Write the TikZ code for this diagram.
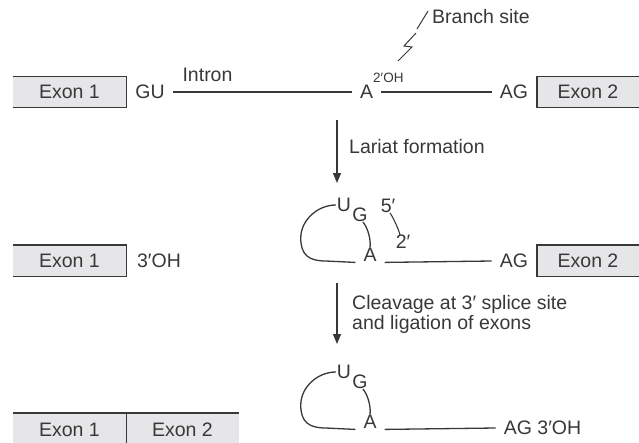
\documentclass[tikz,border=0pt]{standalone}
\usepackage{fontspec}
\setmainfont{Liberation Sans}
\usetikzlibrary{arrows.meta}
\definecolor{ink}{HTML}{383838}
\definecolor{boxfill}{HTML}{E6E6E8}
\begin{document}
\begin{tikzpicture}[x=1pt,y=-1pt]
\tikzset{
  lbl/.style={inner xsep=8pt, inner ysep=0pt, text=ink, font=\fontsize{19.5}{20}\selectfont},
  ltr/.style={inner sep=1pt, text=ink, font=\fontsize{19.5}{20}\selectfont},
  supl/.style={inner sep=0pt, text=ink, font=\fontsize{13.5}{14}\selectfont},
  exonbox/.style={fill=boxfill, inner sep=0pt, minimum height=31pt, text=ink, font=\fontsize{19.5}{20}\selectfont},
  edge/.style={draw=ink, line width=1.4pt},
  strand/.style={draw=ink, line width=1.3pt},
  bolt/.style={draw=ink, line width=1pt},
  steparrow/.style={draw=ink, line width=1.3pt, -{Triangle[width=8pt,length=10pt]}},
}
\useasboundingbox (0,0) rectangle (639,442);

% ---------- Row 1 ----------
\node[exonbox, minimum width=113pt] (e1a) at (69.5,92) {Exon 1};
\draw[edge] (e1a.north west) -- (e1a.north east) -- (e1a.south east) -- (e1a.south west);
\node[lbl] (gu) at (150,92) {GU};
\node[lbl] (intron) at (207.5,75) {Intron};
\node[lbl] (a1) at (366.5,92) {A};
\node[supl, anchor=west] (oh1) at (373,78) {2′OH};
\node[lbl] (ag1) at (514,92) {AG};
\node[exonbox, minimum width=102pt] (e2a) at (588,92) {Exon 2};
\draw[edge] (e2a.north east) -- (e2a.north west) -- (e2a.south west) -- (e2a.south east);
\draw[strand] (gu.east) -- (a1.west);
\draw[strand] (a1.east) -- (ag1.west);

% Branch site pointer
\node[lbl, inner xsep=0pt, anchor=west] (bs) at (432,17) {Branch site};
\coordinate (bz1) at (428,11);
\coordinate (bz2) at (417,29);
\coordinate (bz3) at (416,33);
\coordinate (bz4) at (404,46);
\coordinate (bz5) at (412,47);
\coordinate (bz6) at (398,61);
\draw[bolt] (bz1) -- (bz2);
\draw[bolt] (bz3) -- (bz4) -- (bz5) -- (bz6);

% ---------- Arrow 1 ----------
\coordinate (ar1s) at (337,120);
\coordinate (ar1e) at (337,183);
\draw[steparrow] (ar1s) -- (ar1e);
\node[lbl, inner xsep=0pt, anchor=west] (lar) at (349,147) {Lariat formation};

% ---------- Row 2 ----------
\node[exonbox, minimum width=113pt] (e1b) at (69.5,260.5) {Exon 1};
\draw[edge] (e1b.north west) -- (e1b.north east) -- (e1b.south east) -- (e1b.south west);
\node[lbl] (oh2) at (159,261) {3′OH};
\node[ltr] (u2) at (344,205) {U};
\node[ltr] (g2) at (360,215) {G};
\node[ltr] (a2) at (370,254.5) {A};
\node[ltr] (p5) at (388,206) {5′};
\node[ltr] (p2) at (403,242) {2′};
\node[lbl] (ag2) at (514,261) {AG};
\node[exonbox, minimum width=102pt] (e2b) at (588,260.5) {Exon 2};
\draw[edge] (e2b.north east) -- (e2b.north west) -- (e2b.south west) -- (e2b.south east);
\draw[strand] (u2.west) .. controls +(-18,0) and +(0,-18) .. ++(-35,33)
  .. controls +(0,17) and +(-17,0) .. ++(25,23) -- ([xshift=-7pt]a2.south west);
\draw[strand] ([xshift=7pt]a2.south east) -- (ag2.west);
\draw[strand] ([xshift=3pt,yshift=1pt]g2.south) .. controls +(5,6) and +(1,-8) .. ([yshift=-1pt]a2.north);
\draw[strand, line width=1.1pt] ([xshift=2pt,yshift=1pt]p5.south) .. controls +(3,4) and +(-1,-5) .. ([xshift=-3pt,yshift=-1pt]p2.north);

% ---------- Arrow 2 ----------
\coordinate (ar2s) at (337,283);
\coordinate (ar2e) at (337,344);
\draw[steparrow] (ar2s) -- (ar2e);
\node[lbl, inner xsep=0pt, anchor=north west, align=left] (clv) at (352,295)
  {Cleavage at 3′ splice site\\and ligation of exons};

% ---------- Row 3 ----------
\node[ltr] (u3) at (344,372) {U};
\node[ltr] (g3) at (360,382) {G};
\node[ltr] (a3) at (370,421.5) {A};
\node[lbl] (ag3) at (542.5,428) {AG 3′OH};
\draw[strand] (u3.west) .. controls +(-18,0) and +(0,-18) .. ++(-35,33)
  .. controls +(0,17) and +(-17,0) .. ++(25,23) -- ([xshift=-7pt]a3.south west);
\draw[strand] ([xshift=7pt]a3.south east) -- (ag3.west);
\draw[strand] ([xshift=3pt,yshift=1pt]g3.south) .. controls +(5,6) and +(1,-8) .. ([yshift=-1pt]a3.north);

\node[exonbox, minimum width=113pt, minimum height=34pt] (e1c) at (69.5,430) {Exon 1};
\node[exonbox, minimum width=112pt, minimum height=34pt] (e2c) at (182.5,430) {Exon 2};
\draw[edge] (e1c.north west) -- (e2c.north east);
\draw[edge] (e1c.north east) -- (e1c.south east);
\end{tikzpicture}
\end{document}
